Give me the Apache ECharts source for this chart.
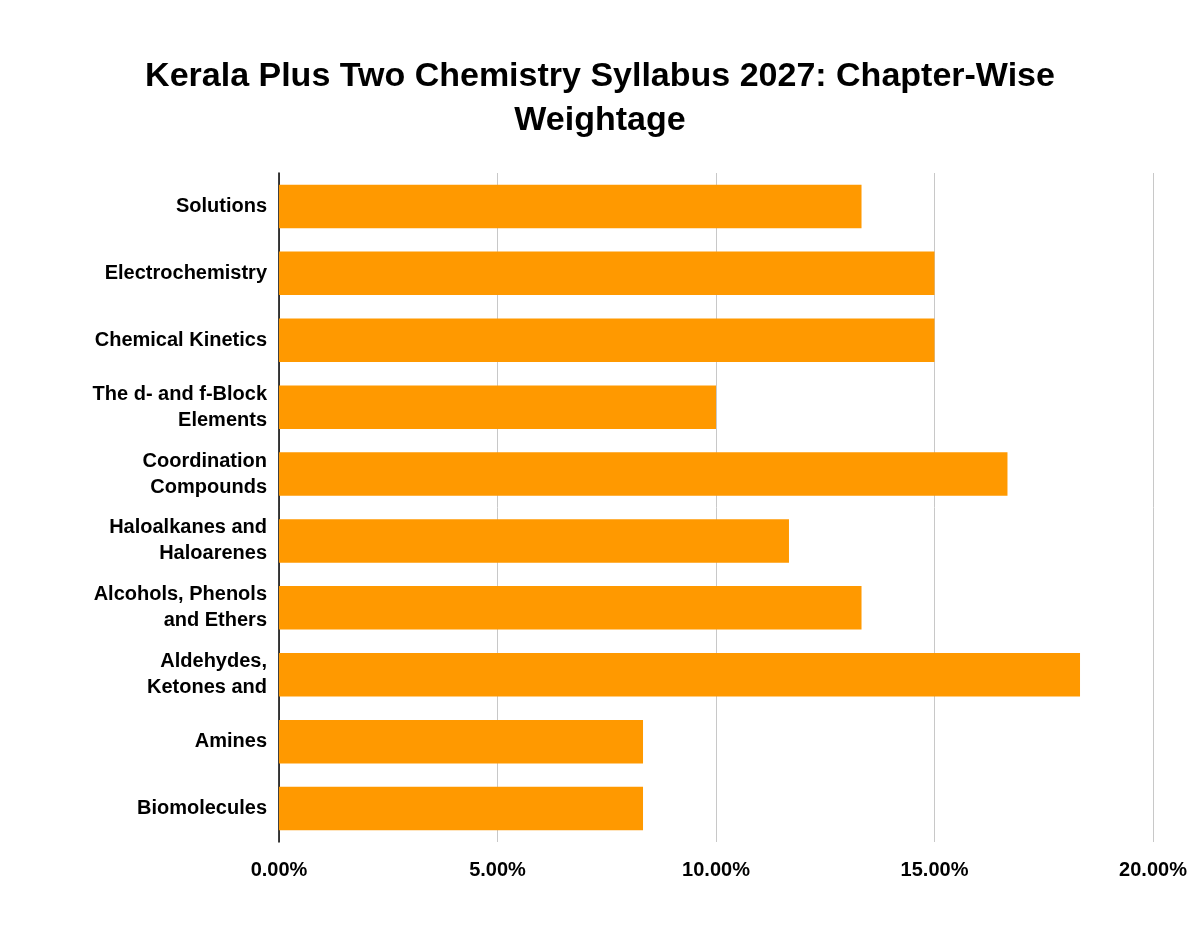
<!DOCTYPE html>
<html><head><meta charset="utf-8">
<script src="https://cdn.jsdelivr.net/npm/echarts@6/dist/echarts.min.js"></script>
<style>html,body{margin:0;padding:0;background:#fff}#c{width:1200px;height:930px}</style>
</head><body><div id="c"></div>
<script>
const categories = ["Solutions","Electrochemistry","Chemical Kinetics","The d- and f-Block\nElements","Coordination\nCompounds","Haloalkanes and\nHaloarenes","Alcohols, Phenols\nand Ethers","Aldehydes,\nKetones and","Amines","Biomolecules"];
const values = [13.33,15,15,10,16.67,11.67,13.33,18.33,8.33,8.33];
const chart = echarts.init(document.getElementById('c'));
chart.setOption({
  backgroundColor:'#fff',
  title:{text:'Kerala Plus Two Chemistry Syllabus 2027: Chapter-Wise\nWeightage',left:'center',top:50,
    textStyle:{fontFamily:'Liberation Sans, Arial',fontWeight:'bold',fontSize:34,color:'#000',lineHeight:44}},
  grid:{left:279,right:47,top:173,bottom:88,containLabel:false},
  xAxis:{type:'value',min:0,max:20,interval:5,
    axisLabel:{formatter:v=>v.toFixed(2)+'%',fontFamily:'Liberation Sans, Arial',fontWeight:'bold',fontSize:20,color:'#000',margin:18},
    splitLine:{lineStyle:{color:'#c8c8c8',width:1}},axisLine:{show:false},axisTick:{show:false}},
  yAxis:{type:'category',inverse:true,data:categories,
    axisLabel:{fontFamily:'Liberation Sans, Arial',fontWeight:'bold',fontSize:20,color:'#000',lineHeight:26,margin:12},
    axisLine:{lineStyle:{color:'#000',width:1.5}},axisTick:{show:false}},
  series:[{type:'bar',data:values,barCategoryGap:'35%',itemStyle:{color:'#ff9900'}}]
});
</script></body></html>
